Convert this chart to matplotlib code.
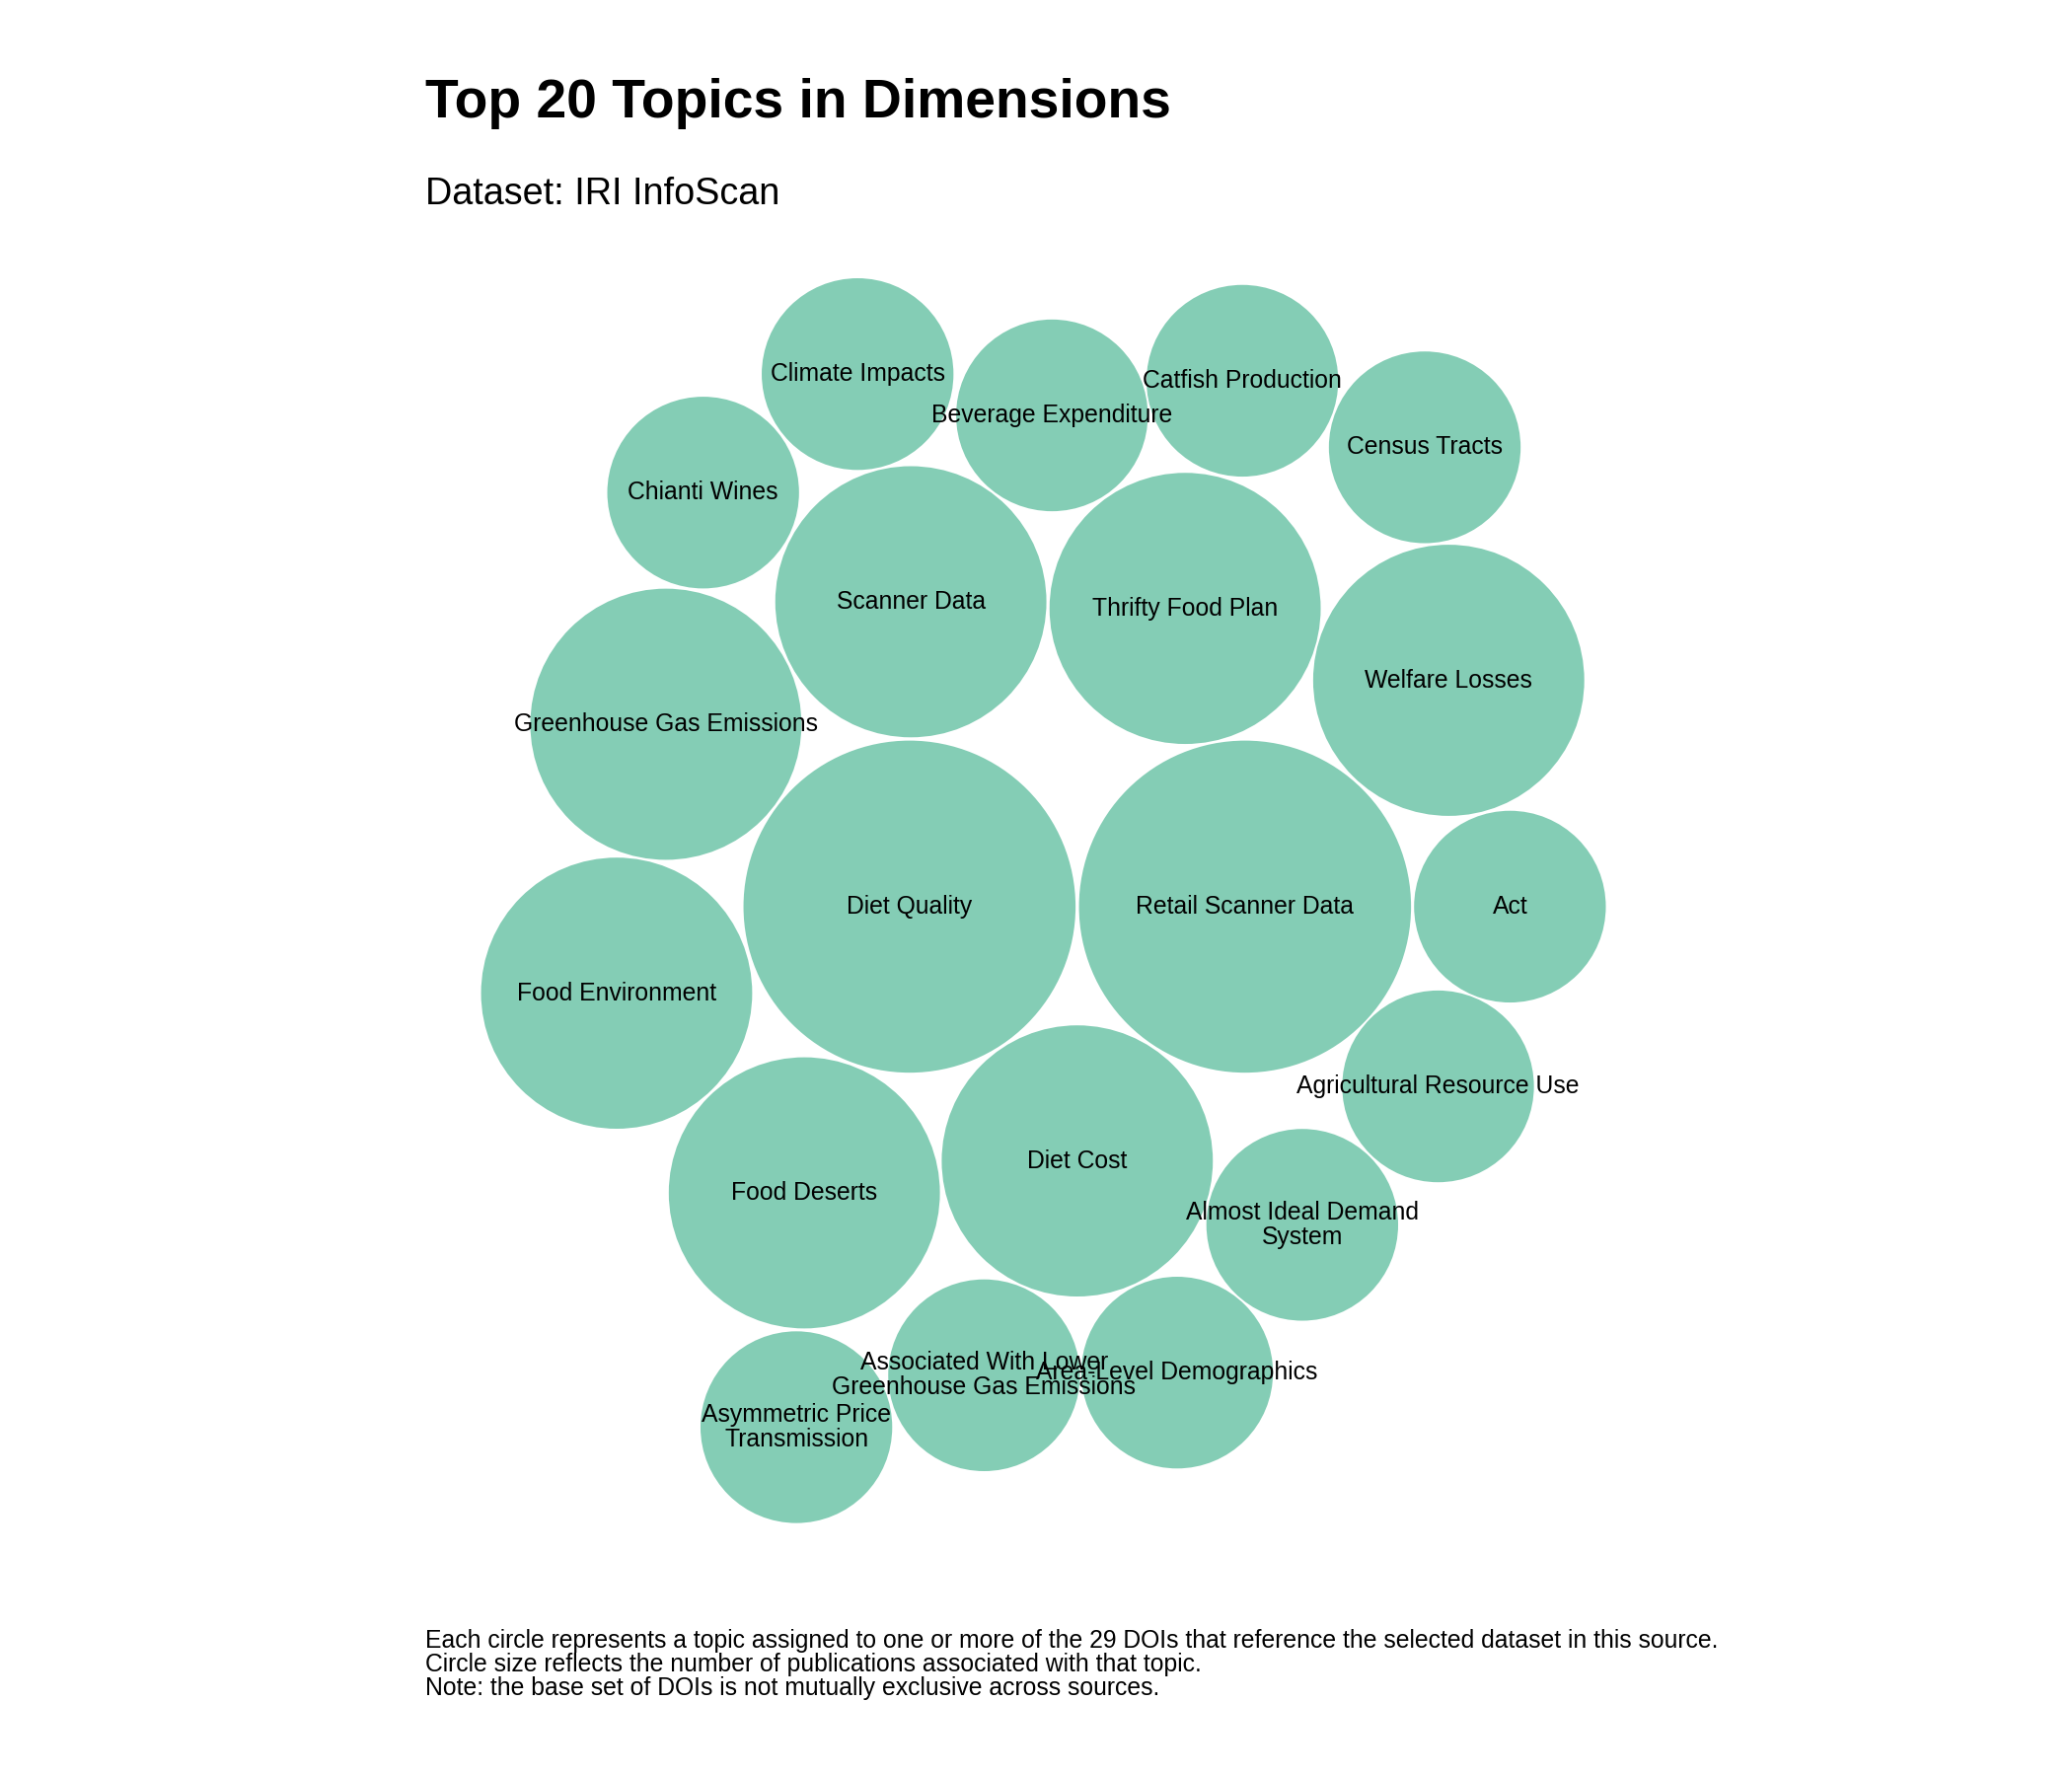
import matplotlib.pyplot as plt
from matplotlib.patches import Circle
import numpy as np

plt.rcParams['font.family'] = ['Liberation Sans', 'DejaVu Sans']

topics = ["Climate Impacts", "Beverage Expenditure", "Catfish Production", "Census Tracts",
          "Chianti Wines", "Scanner Data", "Thrifty Food Plan", "Welfare Losses",
          "Greenhouse Gas Emissions", "Diet Quality", "Retail Scanner Data", "Act",
          "Food Environment", "Agricultural Resource Use", "Food Deserts", "Diet Cost",
          "Almost Ideal Demand\nSystem", "Associated With Lower\nGreenhouse Gas Emissions",
          "Area-Level Demographics", "Asymmetric Price\nTransmission"]
counts = [1, 1, 1, 1, 1, 2, 2, 2, 2, 3, 3, 1, 2, 1, 2, 2, 1, 1, 1, 1]
# packed layout positions (reference pixel space)
pos_x = [644, 790, 933, 1070, 528, 684, 890, 1088, 500, 683, 935, 1134, 463, 1080, 604, 809, 978, 739, 884, 598]
pos_y = [281, 312, 286, 336, 370, 452, 457, 511, 544, 681, 681, 681, 746, 816, 896, 872, 920, 1033, 1031, 1072]

fig = plt.figure(figsize=(21, 18), dpi=100)
ax = fig.add_axes([0, 0, 1, 1])
ax.set_xlim(0, 1556)
ax.set_ylim(1334, 0)
ax.set_aspect('equal')
ax.axis('off')

r0 = 72
for t, c, x, y in zip(topics, counts, pos_x, pos_y):
    ax.add_patch(Circle((x, y), r0 * np.sqrt(c), color='#84cdb5', lw=0))
for t, c, x, y in zip(topics, counts, pos_x, pos_y):
    ax.text(x, y, t, ha='center', va='center', fontsize=17.8, linespacing=1.05)

ax.text(319, 78, "Top 20 Topics in Dimensions", fontsize=39.8, fontweight='bold', va='center')
ax.text(319, 146, "Dataset: IRI InfoScan", fontsize=27.2, va='center')
ax.text(319, 1250,
        "Each circle represents a topic assigned to one or more of the 29 DOIs that reference the selected dataset in this source.\n"
        "Circle size reflects the number of publications associated with that topic.\n"
        "Note: the base set of DOIs is not mutually exclusive across sources.",
        fontsize=17.8, va='center', linespacing=1.0)

fig.savefig("out.png", dpi=100, facecolor='white')
